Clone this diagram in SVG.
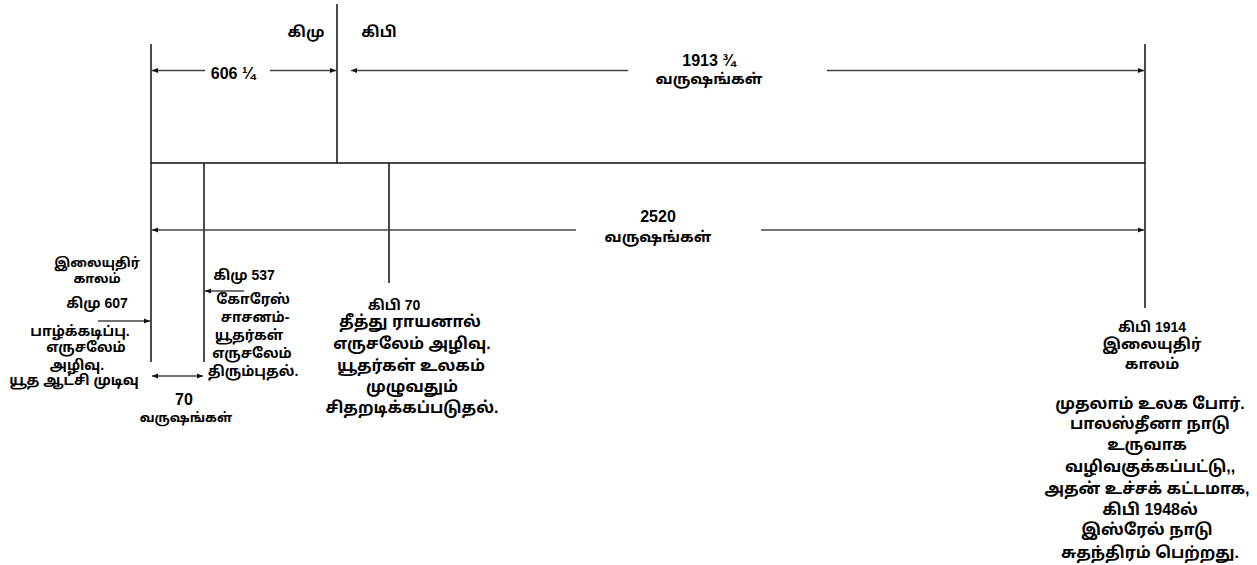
<svg xmlns="http://www.w3.org/2000/svg" width="1257" height="565" viewBox="0 0 1257 565">
<defs>
<marker id="ah" viewBox="0 0 10 10" refX="10" refY="5" markerWidth="6" markerHeight="6" markerUnits="userSpaceOnUse" orient="auto-start-reverse">
<path d="M0,1 L10,5 L0,9 z" fill="#111"/>
</marker>
<style>
.ax{stroke:#111;stroke-width:1.5;fill:none}
.ar{stroke:#444;stroke-width:1.3;fill:none}
.t{font-family:"Liberation Sans","Noto Sans Tamil","Lohit Tamil",Arial,sans-serif;font-weight:bold;font-size:14px;fill:#000;text-anchor:middle}
.n{font-size:16px}
.m{font-size:15px}
.b{font-size:16px}
.s{font-size:13px}
</style>
</defs>
<rect width="1257" height="565" fill="#fff"/>
<g id="connectors">
<line class="ax" x1="151" y1="44" x2="151" y2="362"/>
<line class="ax" x1="204" y1="163" x2="204" y2="362"/>
<line class="ax" x1="389" y1="163" x2="389" y2="283"/>
<line class="ax" x1="337" y1="4" x2="337" y2="163"/>
<line class="ax" x1="1145" y1="44" x2="1145" y2="308"/>
<line class="ax" x1="151" y1="163" x2="1145" y2="163"/>
<line class="ar" x1="152" y1="70.5" x2="205" y2="70.5" marker-start="url(#ah)"/>
<line class="ar" x1="270" y1="70.5" x2="336" y2="70.5" marker-end="url(#ah)"/>
<line class="ar" x1="351" y1="70.5" x2="628" y2="70.5" marker-start="url(#ah)"/>
<line class="ar" x1="827" y1="70.5" x2="1144" y2="70.5" marker-end="url(#ah)"/>
<line class="ar" x1="152" y1="230" x2="576" y2="230" marker-start="url(#ah)"/>
<line class="ar" x1="761" y1="230" x2="1144" y2="230" marker-end="url(#ah)"/>
<line class="ar" x1="98" y1="321" x2="150" y2="321" marker-end="url(#ah)"/>
<line class="ar" x1="205" y1="291" x2="244" y2="291" marker-start="url(#ah)"/>
<line class="ar" x1="152" y1="376" x2="203" y2="376" marker-start="url(#ah)" marker-end="url(#ah)"/>
</g>
<g id="label-kimu"><text class="t m" x="306" y="37">கிமு</text></g>
<g id="label-kipi"><text class="t m" x="379" y="37">கிபி</text></g>
<g id="label-606"><text class="t n" x="233" y="79">606 ¼</text></g>
<g id="label-1913"><text class="t n" x="709" y="66">1913 ¾</text><text class="t m" x="709" y="84">வருஷங்கள்</text></g>
<g id="label-2520"><text class="t n" x="658" y="222">2520</text><text class="t m" x="658" y="242">வருஷங்கள்</text></g>
<g id="node-607">
<text class="t s" x="97" y="267">இலையுதிர்</text>
<text class="t s" x="97" y="283">காலம்</text>
<text class="t" x="97" y="308">கிமு 607</text>
<text class="t" x="80" y="336">பாழ்க்கடிப்பு.</text>
<text class="t" x="86" y="352">எருசலேம்</text>
<text class="t" x="77" y="370">அழிவு.</text>
<text class="t" x="74" y="385">யூத ஆட்சி  முடிவு</text>
</g>
<g id="node-537">
<text class="t" x="244" y="280">கிமு 537</text>
<text class="t" x="253" y="304">கோரேஸ்</text>
<text class="t" x="255" y="322">சாசனம்-</text>
<text class="t" x="249" y="340">யூதர்கள்</text>
<text class="t" x="252" y="358">எருசலேம்</text>
<text class="t" x="253" y="376">திரும்புதல்.</text>
</g>
<g id="label-70"><text class="t n" x="184" y="405">70</text><text class="t s" x="186" y="422">வருஷங்கள்</text></g>
<g id="node-70ad">
<text class="t" x="394" y="310">கிபி 70</text>
<text class="t b" x="410" y="327">தீத்து ராயனால்</text>
<text class="t b" x="412" y="349">எருசலேம் அழிவு.</text>
<text class="t b" x="411" y="371">யூதர்கள் உலகம்</text>
<text class="t b" x="412" y="392">முழுவதும்</text>
<text class="t b" x="412" y="413">சிதறடிக்கப்படுதல்.</text>
</g>
<g id="node-1914">
<text class="t" x="1152" y="332">கிபி 1914</text>
<text class="t m" x="1152" y="349">இலையுதிர்</text>
<text class="t m" x="1152" y="369">காலம்</text>
<text class="t b" x="1150" y="409">முதலாம் உலக போர்.</text>
<text class="t b" x="1150" y="429">பாலஸ்தீனா  நாடு</text>
<text class="t b" x="1147" y="450">உருவாக</text>
<text class="t b" x="1150" y="472">வழிவகுக்கப்பட்டு,,</text>
<text class="t b" x="1147" y="494">அதன் உச்சக் கட்டமாக,</text>
<text class="t b" x="1150" y="515">கிபி 1948ல்</text>
<text class="t b" x="1147" y="535">இஸ்ரேல் நாடு</text>
<text class="t b" x="1150" y="558">சுதந்திரம் பெற்றது.</text>
</g>
</svg>
